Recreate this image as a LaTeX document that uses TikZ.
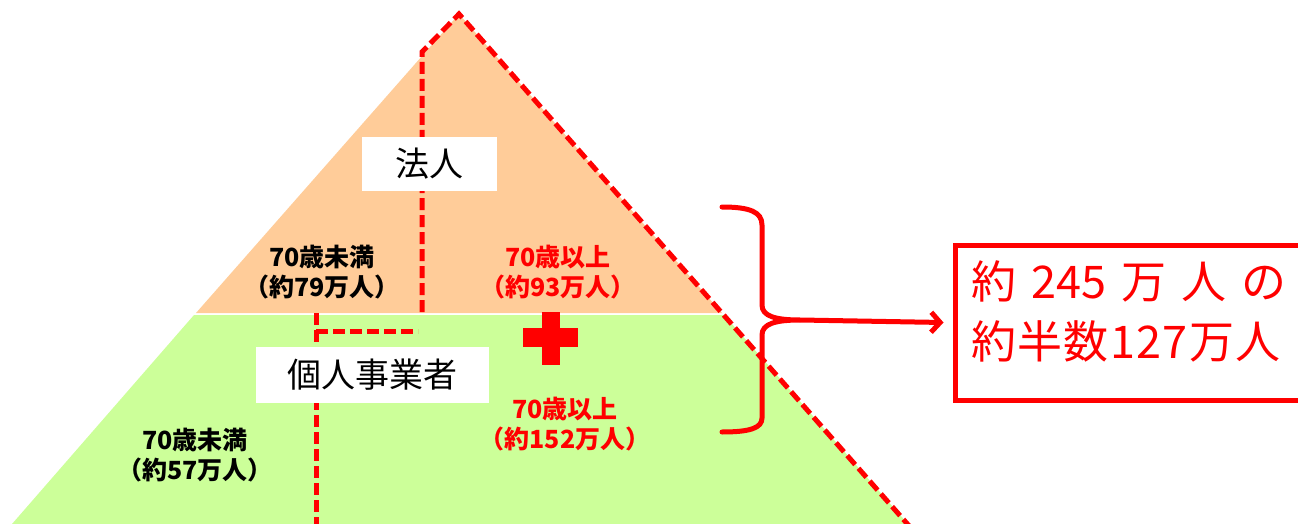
\documentclass[tikz,border=0pt]{standalone}
\usepackage{fontspec}
\newfontfamily\jp{Noto Sans CJK JP}
\usetikzlibrary{arrows.meta}
\definecolor{peach}{RGB}{255,204,153}
\definecolor{lgreen}{RGB}{204,255,153}
\definecolor{pred}{RGB}{255,0,0}
\begin{document}
\begin{tikzpicture}[x=1pt,y=-1pt,
  reddash/.style={draw=pred, line width=5pt, dash pattern=on 12pt off 5pt},
  lbl/.style={font=\jp\bfseries\fontsize{25}{30}\selectfont, align=center, inner sep=0},
  wbox/.style={fill=white, inner sep=0, font=\jp\fontsize{34}{34}\selectfont},
  bigtxt/.style={anchor=base west, inner sep=0, text=pred, font=\jp\fontsize{45}{45}\selectfont},
  redline/.style={draw=pred, line width=5pt}]
\useasboundingbox (0,0) rectangle (1298,524);
\clip (0,0) rectangle (1298,524);
% pyramid fills
\fill[peach] (459,14) -- (196,313) -- (722,313) -- cycle;
\fill[lgreen] (194,315) -- (12,524) -- (908,524) -- (724,315) -- cycle;
% dashed lines
\draw[reddash] (422,312) -- (422,52) -- (459,14) -- (925,544);
\draw[reddash] (316,313) -- (316,530);
\draw[reddash] (316,331) -- (418,331);
% white label boxes
\node[wbox, minimum width=135pt, minimum height=54pt] (hojin) at (429.5,164) {法人};
\node[wbox, minimum width=233pt, minimum height=56pt] (kojin) at (372.5,375) {個人事業者};
% age labels
\node[lbl] (hu70) at (322,272) {70歳未満\\（約79万人）};
\node[lbl, text=pred] (ho70) at (558,272) {70歳以上\\（約93万人）};
\node[lbl, text=pred] (ko70) at (565,424) {70歳以上\\（約152万人）};
\node[lbl] (ku70) at (195,455) {70歳未満\\（約57万人）};
% plus sign
\fill[pred] (542,312) rectangle (560,365);
\fill[pred] (523,328) rectangle (578,347);
% result box
\node[draw=pred, line width=5pt, minimum width=400pt, minimum height=155pt, anchor=north west, inner sep=0] (sumbox) at (952.5,242.5) {};
\node[bigtxt] (line1) at (971,298) {約\hspace{15pt}245\hspace{15pt}万\hspace{15pt}人\hspace{15pt}の};
\node[bigtxt] (line2) at (971,358) {\addfontfeatures{LetterSpace=3}約半数127万人};
% brace
\coordinate (btip) at (800,320);
\draw[redline, line cap=round] (722,207) .. controls (750,207) and (762,212) .. (762,225) -- (762,305) .. controls (762,316) and (775,320) .. (btip)
  .. controls (775,320) and (762,324) .. (762,335) -- (762,418) .. controls (762,428) and (750,432) .. (722,432);
% arrow
\draw[redline, -{Straight Barb[length=9pt,width=20pt]}] (btip) -- ([xshift=-9pt]sumbox.west);
\end{tikzpicture}
\end{document}
